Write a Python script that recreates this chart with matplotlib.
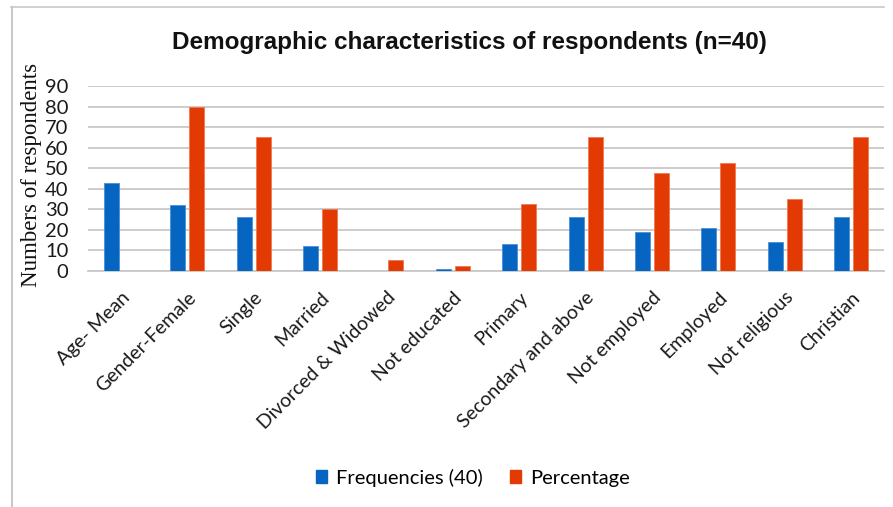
import matplotlib
matplotlib.use("Agg")
import matplotlib.pyplot as plt
from matplotlib.lines import Line2D
import numpy as np

categories = ["Age- Mean", "Gender-Female", "Single", "Married", "Divorced & Widowed",
              "Not educated", "Primary", "Secondary and above", "Not employed",
              "Employed", "Not religious", "Christian"]
frequencies = [43, 32, 26, 12, 0, 1, 13, 26, 19, 21, 14, 26]
percentage = [0, 80, 65, 30, 5, 2.5, 32.5, 65, 47.5, 52.5, 35, 65]
yticks = [0, 10, 20, 30, 40, 50, 60, 70, 80, 90]

BLUE = "#0565C0"
RED = "#E23A02"
GRID = "#C8C8C8"
TICK_FONT = "Lato"

fig = plt.figure(figsize=(8.93, 5.07), dpi=100)
ax = fig.add_axes([0.0985, 0.466, 0.8915, 0.364])

x = np.arange(len(categories))
w = 0.226
off = 0.143
ax.bar(x - off, frequencies, width=w, color=BLUE, edgecolor="#4A8FD6", linewidth=0.6,
       label="Frequencies (40)", zorder=3)
ax.bar(x + off, percentage, width=w, color=RED, edgecolor="#F07A50", linewidth=0.6,
       label="Percentage", zorder=3)

ax.set_xlim(-0.5, len(categories) - 0.5)
ax.set_ylim(0, 90)
ax.set_yticks(yticks)
ax.set_yticklabels([str(t) for t in yticks], fontfamily=TICK_FONT, fontsize=14.5, color="#1A1A1A")
ax.yaxis.grid(True, color=GRID, linewidth=1.3, zorder=0)
ax.set_axisbelow(True)
for s in ["top", "right", "left"]:
    ax.spines[s].set_visible(False)
ax.spines["bottom"].set_color(GRID)
ax.spines["bottom"].set_linewidth(1.3)
ax.tick_params(axis="both", length=0)
ax.tick_params(axis="y", pad=14)
ax.tick_params(axis="x", pad=13)

ax.set_xticks(x)
ax.set_xticklabels(categories, rotation=45, ha="right", rotation_mode="anchor",
                   fontfamily=TICK_FONT, fontsize=14.0, color="#1A1A1A")

ax.set_ylabel("Numbers of respondents", fontfamily="Liberation Serif",
              fontsize=16.5, color="#111111")
ax.yaxis.set_label_coords(-0.058, 0.52)

fig.text(0.526, 0.917, "Demographic characteristics of respondents (n=40)",
         ha="center", va="center", fontfamily="Liberation Sans", fontweight="bold",
         fontsize=17.5, color="#111111")

handles = [plt.Rectangle((0, 0), 1, 1, color=BLUE), plt.Rectangle((0, 0), 1, 1, color=RED)]
fig.legend(handles, ["Frequencies (40)", "Percentage"], loc="center",
           bbox_to_anchor=(0.53, 0.058), ncol=2, frameon=False,
           prop={"family": TICK_FONT, "size": 14.5}, handlelength=0.55, handleheight=0.55,
           handletextpad=0.45, columnspacing=1.35)

# thin frame lines along the top and left edges
fig.add_artist(Line2D([11 / 893, 884 / 893], [1 - 7 / 507, 1 - 7 / 507],
                      transform=fig.transFigure, color="#C8C8C8", linewidth=1.2))
fig.add_artist(Line2D([12 / 893, 12 / 893], [1 - 7 / 507, 0],
                      transform=fig.transFigure, color="#C8C8C8", linewidth=1.5))

fig.savefig("out.png", dpi=100)
